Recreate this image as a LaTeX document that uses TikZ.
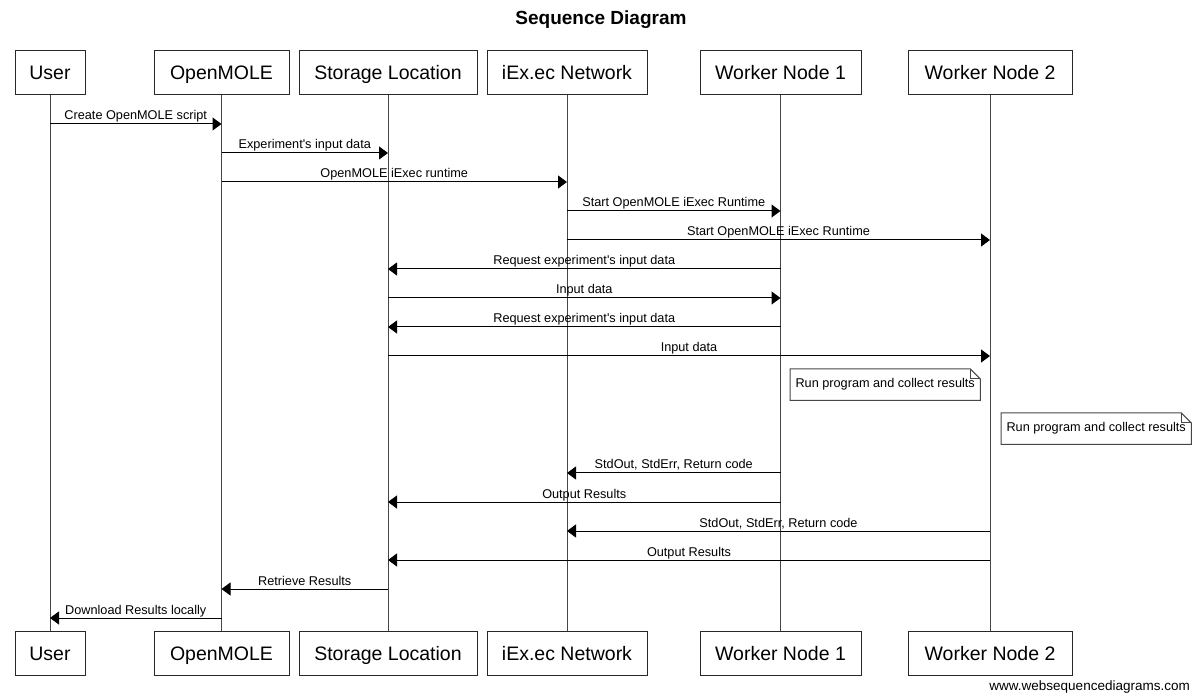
\documentclass[tikz,border=0pt]{standalone}
\usepackage{fontspec}
\setmainfont{Liberation Sans}
\usetikzlibrary{arrows.meta,positioning}
\definecolor{seqline}{RGB}{70,70,70}
\definecolor{seqbox}{RGB}{40,40,40}

\begin{document}
\begin{tikzpicture}[x=1pt,y=-1pt,
  actor/.style={draw=seqbox, line width=1pt, minimum height=44pt, inner sep=0pt,
    text height=16pt, text depth=2pt, font=\fontsize{19.5}{23}\selectfont},
  life/.style={draw=seqline, line width=1pt},
  msg/.style={draw=black, line width=1pt, -{Triangle[length=9pt,width=13pt]}},
  lbl/.style={font=\fontsize{12.7}{15}\selectfont, anchor=base, yshift=4pt, inner sep=0pt},
  note/.style={font=\fontsize{12.7}{15}\selectfont, minimum width=190pt,
    minimum height=31pt, inner sep=0pt, anchor=north west}]
\useasboundingbox (0,0) rectangle (1200,700);
% Title
\node[font=\bfseries\fontsize{19}{22}\selectfont] (title) at (601,20) {Sequence Diagram};
% Participants at top and bottom, joined by lifelines
\foreach \n/\x/\w/\t in {usr/50/70/User, mole/221.5/135/OpenMOLE,
    store/388/178/Storage Location, iexec/567/160/iEx.ec Network,
    wna/780.5/161/Worker Node 1, wnb/990/164/Worker Node 2} {
  \node[actor, minimum width=\w] (top\n) at (\x,73) {\t};
  \node[actor, minimum width=\w] (bot\n) at (\x,653) {\t};
  \draw[life] (top\n) -- (bot\n);
}
% Messages
\foreach \y/\a/\b/\t in {124/usr/mole/Create OpenMOLE script,
    153/mole/store/Experiment\textquotesingle s input data,
    182/mole/iexec/OpenMOLE iExec runtime,
    211/iexec/wna/Start OpenMOLE iExec Runtime,
    240/iexec/wnb/Start OpenMOLE iExec Runtime,
    269/wna/store/Request experiment\textquotesingle s input data,
    298/store/wna/Input data,
    327/wna/store/Request experiment\textquotesingle s input data,
    356/store/wnb/Input data,
    473/wna/iexec/{StdOut, StdErr, Return code},
    502/wna/store/Output Results,
    531/wnb/iexec/{StdOut, StdErr, Return code},
    560/wnb/store/Output Results,
    589/store/mole/Retrieve Results,
    618/mole/usr/Download Results locally} {
  \draw[msg] (top\a |- 0,\y) -- node[lbl] {\t} (top\b |- 0,\y);
}
% Notes with folded corner
\node[note] (runa) at (790,369) {Run program and collect results};
\node[note] (runb) at (1001,413) {Run program and collect results};
\foreach \m in {runa, runb} {
  \draw[life] (\m.north west) -- ([xshift=-10pt]\m.north east)
    -- ([yshift=-10pt]\m.north east) -- (\m.south east) -- (\m.south west) -- cycle;
  \draw[life] ([xshift=-10pt]\m.north east) -- ([xshift=-10pt,yshift=-10pt]\m.north east)
    -- ([yshift=-10pt]\m.north east);
}
% Footer
\node[font=\fontsize{13.5}{16}\selectfont, anchor=east, inner sep=0pt] (credit) at (1190,687)
  {www.websequencediagrams.com};
\end{tikzpicture}
\end{document}
